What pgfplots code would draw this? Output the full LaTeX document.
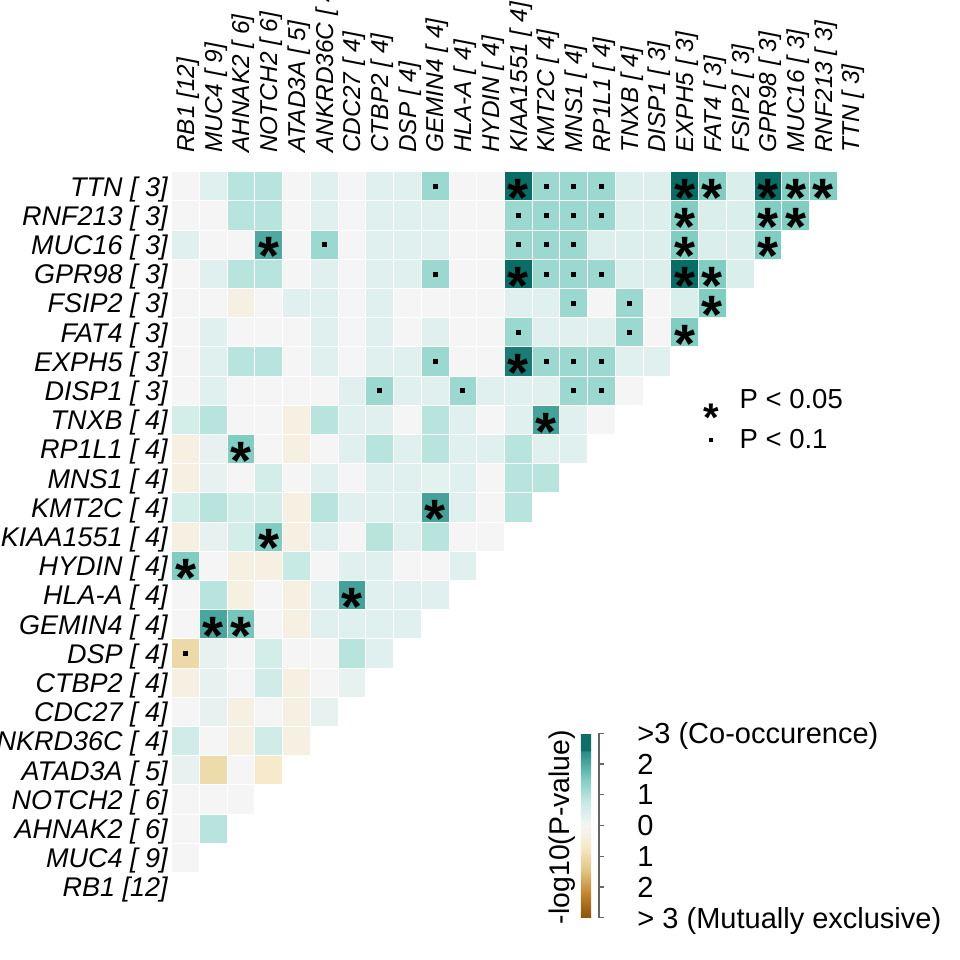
\documentclass[border=0pt]{standalone}
\usepackage{pgfplots}
\pgfplotsset{compat=1.18}
\usepackage{pgfplotstable}
\usepackage{fontspec}
\setmainfont{Liberation Sans}

\pgfdeclareplotmark{cell}{%
  \pgfpathrectangle{\pgfqpoint{-6.68pt}{-7.05pt}}{\pgfqpoint{13.36pt}{14.1pt}}%
  \pgfusepathqfill}

\pgfplotsset{colormap={brbg}{rgb255=(140,81,10) rgb255=(191,129,45) rgb255=(223,194,125) rgb255=(246,232,195) rgb255=(245,245,245) rgb255=(199,234,229) rgb255=(128,205,193) rgb255=(53,151,143) rgb255=(1,102,94)}}

% cells: x = column gene index, y = row gene index (0 = RB1), v = signed -log10(P)
\pgfplotstableread{
x y v
0 24 0
1 24 0.35
2 24 0.92
3 24 0.92
4 24 0
5 24 0.35
6 24 0
7 24 0.35
8 24 0.35
9 24 1.22
10 24 0
11 24 0
12 24 2.9
13 24 1.22
14 24 1.22
15 24 1.22
16 24 0.4
17 24 0.4
18 24 2.9
19 24 1.5
20 24 0.45
21 24 2.9
22 24 1.5
23 24 1.5
0 23 0
1 23 0
2 23 0.92
3 23 0.92
4 23 0
5 23 0.35
6 23 0
7 23 0.35
8 23 0.35
9 23 0.35
10 23 0
11 23 0
12 23 1.22
13 23 1.22
14 23 1.22
15 23 1.22
16 23 0.4
17 23 0.4
18 23 1.5
19 23 0.45
20 23 0.45
21 23 1.5
22 23 1.5
0 22 0.35
1 22 0
2 22 0
3 22 2.0
4 22 0
5 22 1.22
6 22 0
7 22 0.35
8 22 0.35
9 22 0.35
10 22 0
11 22 0
12 22 1.22
13 22 1.22
14 22 1.22
15 22 0.4
16 22 0.4
17 22 0.4
18 22 1.5
19 22 0.45
20 22 0.45
21 22 1.5
0 21 0
1 21 0.35
2 21 0.92
3 21 0.92
4 21 0
5 21 0.35
6 21 0
7 21 0.35
8 21 0.35
9 21 1.22
10 21 0
11 21 0
12 21 2.9
13 21 1.22
14 21 1.22
15 21 1.22
16 21 0.4
17 21 0.4
18 21 2.9
19 21 1.5
20 21 0.45
0 20 0
1 20 0
2 20 -0.3
3 20 0
4 20 0.35
5 20 0.35
6 20 0
7 20 0.35
8 20 0
9 20 0
10 20 0
11 20 0
12 20 0.35
13 20 0.35
14 20 1.22
15 20 0
16 20 1.22
17 20 0
18 20 0.45
19 20 1.5
0 19 0
1 19 0.35
2 19 0
3 19 0
4 19 0
5 19 0.35
6 19 0
7 19 0.35
8 19 0
9 19 0.35
10 19 0
11 19 0
12 19 1.22
13 19 0.35
14 19 0.35
15 19 0.35
16 19 1.22
17 19 0
18 19 1.5
0 18 0
1 18 0.35
2 18 0.92
3 18 0.92
4 18 0
5 18 0.35
6 18 0
7 18 0.35
8 18 0.35
9 18 1.22
10 18 0
11 18 0
12 18 2.65
13 18 1.22
14 18 1.22
15 18 1.22
16 18 0.35
17 18 0.35
0 17 0
1 17 0.35
2 17 0
3 17 0
4 17 0
5 17 0
6 17 0.35
7 17 1.22
8 17 0.35
9 17 0.35
10 17 1.22
11 17 0.35
12 17 0.35
13 17 0.35
14 17 1.22
15 17 1.22
16 17 0
0 16 0.55
1 16 0.92
2 16 0
3 16 0
4 16 -0.3
5 16 0.92
6 16 0.35
7 16 0.35
8 16 0
9 16 0.92
10 16 0.35
11 16 0
12 16 0.35
13 16 2.1
14 16 0.35
15 16 0
0 15 -0.3
1 15 0.25
2 15 1.5
3 15 0
4 15 -0.3
5 15 0
6 15 0.35
7 15 0.92
8 15 0.35
9 15 0.92
10 15 0.35
11 15 0.35
12 15 0.92
13 15 0.35
14 15 0.35
0 14 -0.3
1 14 0.25
2 14 0
3 14 0.55
4 14 0
5 14 0.35
6 14 0
7 14 0.35
8 14 0.35
9 14 0.3
10 14 0.35
11 14 0
12 14 0.92
13 14 0.92
0 13 0.55
1 13 0.92
2 13 0.55
3 13 0.55
4 13 -0.3
5 13 0.92
6 13 0.35
7 13 0.35
8 13 0.35
9 13 2.1
10 13 0.35
11 13 0
12 13 0.92
0 12 -0.3
1 12 0.25
2 12 0.55
3 12 1.5
4 12 -0.3
5 12 0.35
6 12 0
7 12 0.92
8 12 0.35
9 12 0.92
10 12 0
11 12 0
0 11 1.5
1 11 0
2 11 -0.3
3 11 -0.3
4 11 0.75
5 11 0
6 11 0.35
7 11 0.35
8 11 0
9 11 0
10 11 0.35
0 10 0
1 10 0.92
2 10 -0.3
3 10 0
4 10 -0.3
5 10 0.35
6 10 2.1
7 10 0.35
8 10 0.35
9 10 0.35
0 9 0
1 9 2.05
2 9 1.6
3 9 0
4 9 -0.3
5 9 0.35
6 9 0.35
7 9 0.35
8 9 0.35
0 8 -1.05
1 8 0.25
2 8 0
3 8 0.55
4 8 0
5 8 0
6 8 0.92
7 8 0.35
0 7 -0.3
1 7 0.25
2 7 0
3 7 0.6
4 7 -0.3
5 7 0
6 7 0.25
0 6 0
1 6 0.25
2 6 -0.3
3 6 0
4 6 -0.3
5 6 0.25
0 5 0.6
1 5 0
2 5 -0.3
3 5 0.6
4 5 -0.3
0 4 0.25
1 4 -1.0
2 4 0
3 4 -0.65
0 3 0
1 3 0
2 3 0
0 2 0
1 2 0.92
0 1 0
}\cells

% P < 0.05
\pgfplotstableread{
x y
12 24
18 24
19 24
21 24
22 24
23 24
18 23
21 23
22 23
3 22
18 22
21 22
12 21
18 21
19 21
19 20
18 19
12 18
13 16
2 15
9 13
3 12
0 11
6 10
1 9
2 9
}\stars

% P < 0.1
\pgfplotstableread{
x y
9 24
13 24
14 24
15 24
12 23
13 23
14 23
15 23
5 22
12 22
13 22
14 22
9 21
13 21
14 21
15 21
14 20
16 20
12 19
16 19
9 18
13 18
14 18
15 18
7 17
10 17
14 17
15 17
0 8
}\dotpts

\begin{document}
\begin{tikzpicture}
\begin{axis}[
  at={(0pt,0pt)}, anchor=south west,
  scale only axis, width=346.65pt, height=365pt,
  xmin=-0.5, xmax=24.5, ymin=-0.5, ymax=24.5,
  clip=false,
  axis line style={draw=none}, major tick length=0pt,
  xtick={0,...,24}, ytick={0,...,24},
  xticklabels={{RB1 [12]},{MUC4 [ 9]},{AHNAK2 [ 6]},{NOTCH2 [ 6]},{ATAD3A [ 5]},{ANKRD36C [ 4]},{CDC27 [ 4]},{CTBP2 [ 4]},{DSP [ 4]},{GEMIN4 [ 4]},{HLA-A [ 4]},{HYDIN [ 4]},{KIAA1551 [ 4]},{KMT2C [ 4]},{MNS1 [ 4]},{RP1L1 [ 4]},{TNXB [ 4]},{DISP1 [ 3]},{EXPH5 [ 3]},{FAT4 [ 3]},{FSIP2 [ 3]},{GPR98 [ 3]},{MUC16 [ 3]},{RNF213 [ 3]},{TTN [ 3]}},
  yticklabels={{RB1 [12]},{MUC4 [ 9]},{AHNAK2 [ 6]},{NOTCH2 [ 6]},{ATAD3A [ 5]},{ANKRD36C [ 4]},{CDC27 [ 4]},{CTBP2 [ 4]},{DSP [ 4]},{GEMIN4 [ 4]},{HLA-A [ 4]},{HYDIN [ 4]},{KIAA1551 [ 4]},{KMT2C [ 4]},{MNS1 [ 4]},{RP1L1 [ 4]},{TNXB [ 4]},{DISP1 [ 3]},{EXPH5 [ 3]},{FAT4 [ 3]},{FSIP2 [ 3]},{GPR98 [ 3]},{MUC16 [ 3]},{RNF213 [ 3]},{TTN [ 3]}},
  xticklabel pos=upper,
  xticklabel style={rotate=90, anchor=west, inner sep=0pt, text depth=0pt, font=\fontsize{12.2}{14}\selectfont\itshape},
  xticklabel shift=9.3pt,
  yticklabel style={anchor=east, inner sep=0pt, text depth=0pt, font=\fontsize{13.5}{16}\selectfont\itshape},
  yticklabel shift=1.85pt,
  colormap name=brbg, point meta min=-3, point meta max=3,
  colorbar,
  colorbar style={
    at={(196pt,-8pt)}, anchor=south west,
    colormap={brbgbar}{rgb255(0cm)=(140,81,10) rgb255(0.75cm)=(191,129,45) rgb255(1.5cm)=(223,194,125) rgb255(2.25cm)=(246,232,195) rgb255(3cm)=(245,245,245) rgb255(3.75cm)=(199,234,229) rgb255(4.5cm)=(128,205,193) rgb255(5.25cm)=(53,151,143) rgb255(5.43cm)=(41,139,131) rgb255(5.44cm)=(15,110,102) rgb255(6cm)=(15,110,102)},
    scale only axis, width=5.15pt, height=92.2pt,
    ytick={-3,-2,-1,0,1,2,3},
    yticklabels={{> 3 (Mutually exclusive)},2,1,0,1,2,{>3 (Co-occurence)}},
    yticklabel pos=right,
    axis line style={draw=none}, major tick length=0pt,
    yticklabel style={anchor=west, inner sep=0pt, text depth=0pt, font=\fontsize{14.5}{16}\selectfont},
    yticklabel shift=23pt,
  },
  legend style={draw=none, fill=none, inner sep=0pt, outer sep=0pt,
    at={(0.7666,0.7021)}, anchor=north west,
    font=\fontsize{13.75}{16}\selectfont, row sep=10.6pt,
    nodes={inner sep=0pt, text depth=0pt},
    /tikz/every odd column/.append style={column sep=10.45pt}},
  legend cell align=left,
]
\addplot[scatter, only marks, mark=cell, scatter src=explicit, forget plot]
  table[x=x, y=y, meta=v] {\cells};
\addplot[only marks, mark=text, text mark as node=true,
  text mark={\smash{\raisebox{-15.1pt}{*}}},
  text mark style={font=\fontsize{27}{27}\selectfont\bfseries, inner sep=0pt, anchor=base, black},
  forget plot]
  table[x=x, y=y] {\stars};
\addplot[only marks, mark=square*, mark size=1pt, black, forget plot]
  table[x=x, y=y] {\dotpts};
\addlegendimage{legend image code/.code={\node[inner sep=0pt, anchor=base, font=\fontsize{20}{20}\selectfont\bfseries] at (0pt,0pt) {\smash{\raisebox{-16.4pt}{*}}};}}
\addlegendentry{P < 0.05}
\addlegendimage{legend image code/.code={\fill[black] (-0.7pt,-1.2pt) rectangle (0.7pt,0.2pt);}}
\addlegendentry{P < 0.1}
\end{axis}
% colour key bracket and title
\draw[black!60, line width=0.65pt] (216.15pt,-8pt) -- (213.65pt,-8pt) -- (213.65pt,84.2pt) -- (216.15pt,84.2pt);
\foreach \yy in {7.37,22.73,38.1,53.47,68.83} {\draw[black!60, line width=0.65pt] (213.65pt,\yy pt) -- (216.15pt,\yy pt);}
\node[rotate=90, inner sep=0pt, font=\fontsize{14.2}{16}\selectfont] at (195.15pt,37.35pt) {-log10(P-value)};
\pgfresetboundingbox
\useasboundingbox (-85.85pt,-29.15pt) rectangle (394.15pt,450.85pt);
\end{tikzpicture}
\end{document}
